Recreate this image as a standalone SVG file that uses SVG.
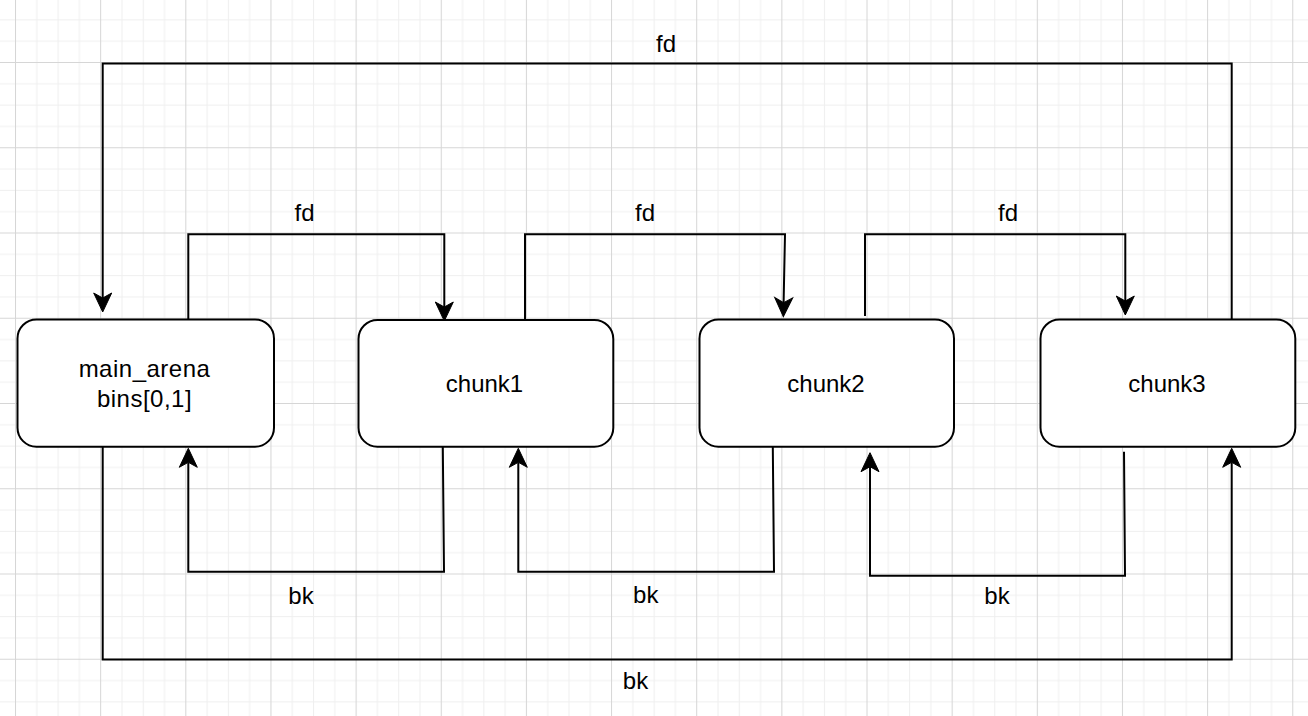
<svg xmlns="http://www.w3.org/2000/svg" width="1308" height="716" viewBox="0 0 1308 716">
  <defs>
    <pattern id="grid" patternUnits="userSpaceOnUse" x="15" y="62" width="85.15" height="85.25">
      <rect width="85.15" height="85.25" fill="#ffffff"/>
      <g stroke="#efefef" stroke-width="1">
        <line x1="21.79" y1="0" x2="21.79" y2="85.25"/>
        <line x1="43.08" y1="0" x2="43.08" y2="85.25"/>
        <line x1="64.36" y1="0" x2="64.36" y2="85.25"/>
        <line x1="0" y1="21.81" x2="85.15" y2="21.81"/>
        <line x1="0" y1="43.12" x2="85.15" y2="43.12"/>
        <line x1="0" y1="64.44" x2="85.15" y2="64.44"/>
      </g>
      <g stroke="#d6d6d6" stroke-width="1">
        <line x1="0.5" y1="0" x2="0.5" y2="85.25"/>
        <line x1="0" y1="0.5" x2="85.15" y2="0.5"/>
      </g>
    </pattern>
    <marker id="arr" markerUnits="userSpaceOnUse" markerWidth="40" markerHeight="40" refX="0" refY="0" orient="auto" overflow="visible">
      <path d="M14,0 L-5,-9 L0,0 L-5,9 Z" fill="#000000" stroke="#000000" stroke-width="1" stroke-linejoin="miter"/>
    </marker>
    <style>
      .node rect { fill: #ffffff; stroke: #000000; stroke-width: 2; }
      .node text, .lbl { font-family: "Liberation Sans", Arial, sans-serif; font-size: 24px; fill: #000000; text-anchor: middle; }
      .node text.wide { letter-spacing: 0.5px; }
      .conn path { fill: none; stroke: #000000; stroke-width: 2; stroke-linejoin: miter; }
      .conn path.a { marker-end: url(#arr); }
    </style>
  </defs>

  <rect x="0" y="0" width="1308" height="716" fill="url(#grid)"/>

  <g id="connectors" class="conn">
    <!-- fd: chunk3 -> main_arena (top loop) -->
    <path class="a" d="M1231.7,319.5 V63.5 H102.7 V298"/>
    <!-- fd: main_arena -> chunk1 -->
    <path class="a" d="M188.3,319.5 V234.3 H444.3 V307"/>
    <!-- fd: chunk1 -> chunk2 -->
    <path class="a" d="M525,320 V234.3 H785 L783.6,302.7"/>
    <!-- fd: chunk2 -> chunk3 -->
    <path class="a" d="M865,316 V234.3 H1125.3 V301"/>
    <!-- bk: chunk1 -> main_arena -->
    <path class="a" d="M442.8,446.7 L444,571.7 H188.3 V462.3"/>
    <!-- bk: chunk2 -> chunk1 -->
    <path class="a" d="M772.8,446.7 L774,571.7 H518.3 V462.3"/>
    <!-- bk: chunk3 -> chunk2 -->
    <path class="a" d="M1124,451.7 L1125,575.7 H870 V466.7"/>
    <!-- bk: main_arena -> chunk3 (bottom loop) -->
    <path class="a" d="M102.7,446.7 V659.5 H1231.7 V462.3"/>
  </g>

  <g id="labels">
    <text class="lbl" x="666" y="52">fd</text>
    <text class="lbl" x="304.5" y="220.7">fd</text>
    <text class="lbl" x="645" y="220.7">fd</text>
    <text class="lbl" x="1008" y="220.7">fd</text>
    <text class="lbl" x="301" y="604">bk</text>
    <text class="lbl" x="645.8" y="603.3">bk</text>
    <text class="lbl" x="997" y="604">bk</text>
    <text class="lbl" x="635.5" y="689.3">bk</text>
  </g>

  <g id="main_arena" class="node">
    <rect x="17.5" y="319.5" width="256.5" height="127.2" rx="19" ry="19"/>
    <text class="wide" x="144.5" y="376.7">main_arena</text>
    <text class="wide" x="144.5" y="406.7">bins[0,1]</text>
  </g>
  <g id="chunk1" class="node">
    <rect x="358.5" y="320" width="254.8" height="126.7" rx="19" ry="19"/>
    <text x="484.5" y="392.3">chunk1</text>
  </g>
  <g id="chunk2" class="node">
    <rect x="699.5" y="319.5" width="254.5" height="127.2" rx="19" ry="19"/>
    <text x="826" y="392.3">chunk2</text>
  </g>
  <g id="chunk3" class="node">
    <rect x="1040.5" y="319.5" width="254.8" height="127.2" rx="19" ry="19"/>
    <text x="1167" y="392.3">chunk3</text>
  </g>
</svg>
